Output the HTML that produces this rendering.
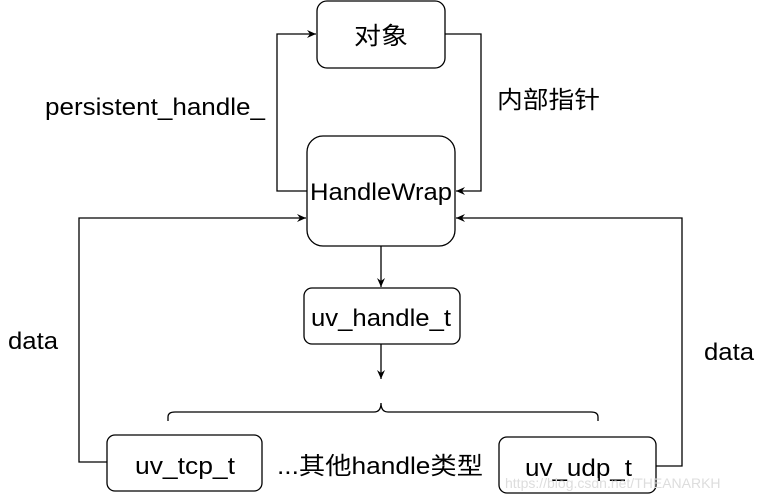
<!DOCTYPE html>
<html><head><meta charset="utf-8"><style>
body{margin:0;background:#fff;}
svg text{font-family:"Liberation Sans","Noto Sans CJK SC",sans-serif;font-size:24px;fill:#000;}
</style></head><body>
<svg width="762" height="496" viewBox="0 0 762 496" xmlns="http://www.w3.org/2000/svg">
<defs><marker id="a" markerWidth="10" markerHeight="10" refX="9" refY="5" orient="auto" markerUnits="userSpaceOnUse"><path d="M0,1 L9,5 L0,9 L3,5 Z" fill="#000"/></marker></defs>
<g fill="none" stroke="#000" stroke-width="1.3">
<rect x="317" y="1" width="128" height="67" rx="10"/>
<rect x="307" y="136" width="148" height="110" rx="16"/>
<rect x="304" y="288" width="156" height="56" rx="8"/>
<rect x="107" y="435" width="155" height="56" rx="8"/>
<rect x="499" y="437" width="157" height="56" rx="8"/>
<path d="M307,191 H277 V34 H316" marker-end="url(#a)"/>
<path d="M445,34 H481 V191 H456" marker-end="url(#a)"/>
<path d="M107,462 H79 V218 H306" marker-end="url(#a)"/>
<path d="M656,466 H682 V218 H456" marker-end="url(#a)"/>
<path d="M381,246 V287" marker-end="url(#a)"/>
<path d="M381,344 V379" marker-end="url(#a)"/>
<path d="M168,421 V417 Q168,412 175,412 H374 Q381,412 381,403 Q381,412 388,412 H591 Q598,412 598,417 V421"/>
</g>
<text x="354" y="44" textLength="54" lengthAdjust="spacingAndGlyphs">对象</text>
<text x="310" y="200" textLength="142" lengthAdjust="spacingAndGlyphs">HandleWrap</text>
<text x="311" y="326" textLength="140" lengthAdjust="spacingAndGlyphs">uv_handle_t</text>
<text x="135" y="474" textLength="100" lengthAdjust="spacingAndGlyphs">uv_tcp_t</text>
<text x="525" y="476" textLength="107" lengthAdjust="spacingAndGlyphs">uv_udp_t</text>
<text x="45" y="115" textLength="220" lengthAdjust="spacingAndGlyphs">persistent_handle_</text>
<text x="497" y="108" textLength="103" lengthAdjust="spacingAndGlyphs">内部指针</text>
<text x="8" y="349" textLength="50" lengthAdjust="spacingAndGlyphs">data</text>
<text x="704" y="360" textLength="50" lengthAdjust="spacingAndGlyphs">data</text>
<text x="277" y="474" textLength="206" lengthAdjust="spacingAndGlyphs">...其他handle类型</text>
<text x="505" y="488" style="font-size:14px;fill:#ddd">https://blog.csdn.net/THEANARKH</text>
</svg>
</body></html>
